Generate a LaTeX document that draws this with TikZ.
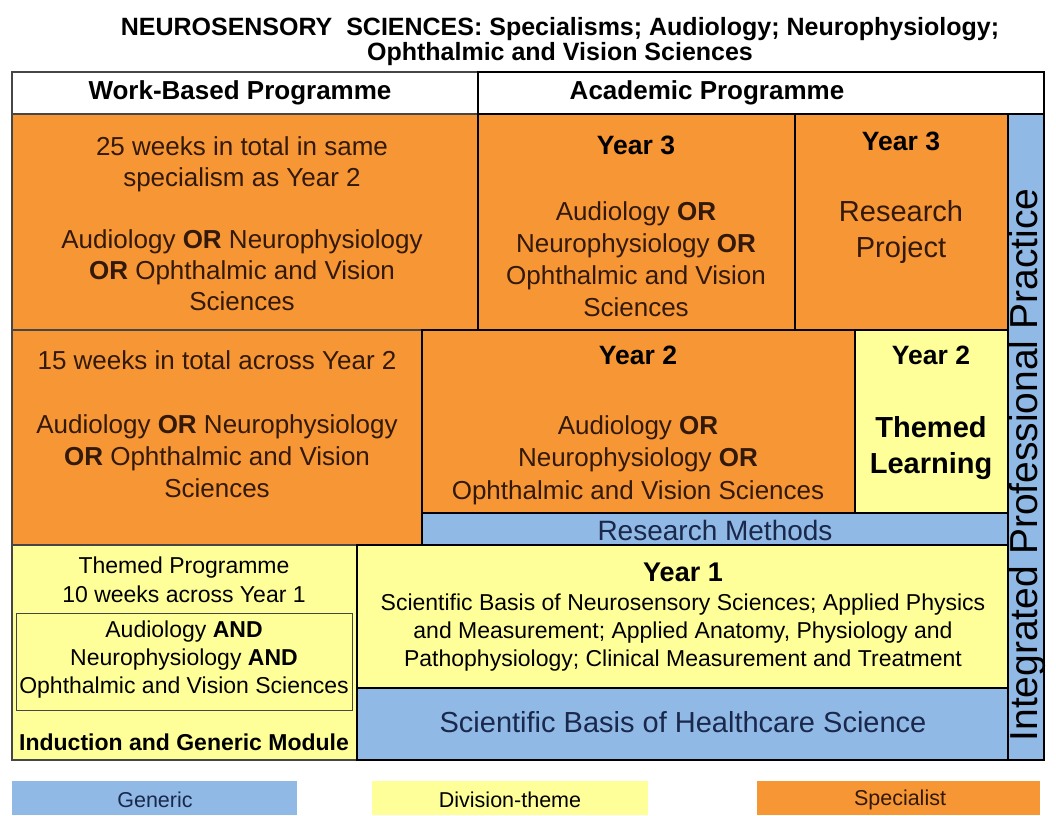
\documentclass[tikz,border=0pt]{standalone}
\usepackage{fontspec}
\setmainfont{Liberation Sans}
\definecolor{specorange}{RGB}{247,150,52}
\definecolor{themeyellow}{RGB}{255,255,153}
\definecolor{genblue}{RGB}{145,185,230}
\definecolor{orangetext}{RGB}{50,25,10}
\definecolor{bluetext}{RGB}{25,40,75}
\definecolor{wbpline}{RGB}{70,70,70}
\tikzset{
  wbp/.style={draw=wbpline, line width=2.5pt},
  acad/.style={draw=black, line width=1.8pt},
  lbl/.style={align=center, inner sep=0pt, font=\fontsize{26}{31}\selectfont},
  yr/.style={lbl, font=\bfseries\fontsize{26.5}{31}\selectfont},
  key/.style={lbl, font=\fontsize{21.5}{21.5}\selectfont},
}
\begin{document}
\begin{tikzpicture}[x=1pt, y=-1pt]
  \useasboundingbox (0,0) rectangle (1056,815);
  % heading
  \node[lbl, font=\bfseries\fontsize{25}{25}\selectfont] (title) at (560,42)
    {NEUROSENSORY\ \ SCIENCES: Specialisms; Audiology; Neurophysiology;\\ Ophthalmic and Vision Sciences};
  % programme headers
  \draw[wbp, fill=white] (12,72) rectangle (478,114);
  \draw[acad, fill=white] (478,72) rectangle (1044,114);
  \node[lbl, font=\bfseries\fontsize{26}{26}\selectfont] (wbphead) at (240,93) {Work-Based Programme};
  \node[lbl, font=\bfseries\fontsize{26}{26}\selectfont] (acadhead) at (707,93) {Academic Programme};

  % third year
  \draw[wbp, fill=specorange] (12,114) rectangle (478,330);
  \node[lbl, text=orangetext] (wbpthree) at (242,224)
    {25 weeks in total in same\\ specialism as Year 2\\[31pt] Audiology \textbf{OR} Neurophysiology\\ \textbf{OR} Ophthalmic and Vision\\ Sciences};
  \draw[acad, fill=specorange] (478,114) rectangle (795,330);
  \node[yr] (yearthree) at (636,145) {Year 3};
  \node[lbl, text=orangetext, font=\fontsize{26}{32}\selectfont] (specthree) at (636,259)
    {Audiology \textbf{OR}\\ Neurophysiology \textbf{OR}\\ Ophthalmic and Vision\\ Sciences};
  \draw[acad, fill=specorange] (795,114) rectangle (1008,330);
  \node[yr] (yearthreeb) at (901,141) {Year 3};
  \node[lbl, text=orangetext, font=\fontsize{29}{36}\selectfont] (resproj) at (901,232) {Research\\ Project};

  % side column
  \draw[acad, fill=genblue] (1008,114) rectangle (1044,760);
  \node[lbl, rotate=90, font=\fontsize{39}{39}\selectfont] (ipp) at (1027,465) {Integrated Professional Practice};

  % second year
  \draw[wbp, fill=specorange] (12,330) rectangle (422,545);
  \node[lbl, text=orangetext, font=\fontsize{26}{32}\selectfont] (wbptwo) at (217,424)
    {15 weeks in total across Year 2\\[32pt] Audiology \textbf{OR} Neurophysiology\\ \textbf{OR} Ophthalmic and Vision\\ Sciences};
  \draw[acad, fill=specorange] (422,330) rectangle (855,513);
  \node[yr] (yeartwo) at (638,355) {Year 2};
  \node[lbl, text=orangetext, font=\fontsize{26}{32.5}\selectfont] (spectwo) at (638,460)
    {Audiology \textbf{OR}\\ Neurophysiology \textbf{OR}\\ Ophthalmic and Vision Sciences};
  \draw[acad, fill=themeyellow] (855,330) rectangle (1008,513);
  \node[yr] (yeartwob) at (931,355) {Year 2};
  \node[lbl, font=\bfseries\fontsize{29}{36}\selectfont] (themed) at (931,448) {Themed\\ Learning};
  \draw[acad, fill=genblue] (422,513) rectangle (1008,545);
  \node[lbl, text=bluetext, font=\fontsize{28}{28}\selectfont] (resmeth) at (715,530) {Research Methods};

  % first year
  \draw[wbp, fill=themeyellow] (12,545) rectangle (357,760);
  \node[lbl, font=\fontsize{23}{29}\selectfont] (tprog) at (184,580) {Themed Programme\\ 10 weeks across Year 1};
  \draw[draw=wbpline, line width=1pt] (16,613) rectangle (352,710);
  \node[lbl, font=\fontsize{23}{28}\selectfont] (tall) at (184,660)
    {Audiology \textbf{AND}\\ Neurophysiology \textbf{AND}\\ Ophthalmic and Vision Sciences};
  \node[lbl, font=\bfseries\fontsize{23}{23}\selectfont] (induct) at (184,742) {Induction and Generic Module};
  \draw[acad, fill=themeyellow] (357,545) rectangle (1008,688);
  \node[yr, font=\bfseries\fontsize{27}{27}\selectfont] (yearone) at (683,572) {Year 1};
  \node[lbl, font=\fontsize{23}{28}\selectfont] (specone) at (683,633)
    {Scientific Basis of Neurosensory Sciences; Applied Physics\\ and Measurement; Applied Anatomy, Physiology and\\ Pathophysiology; Clinical Measurement and Treatment};
  \draw[acad, fill=genblue] (357,688) rectangle (1008,760);
  \node[lbl, text=bluetext, font=\fontsize{29}{29}\selectfont] (sbhs) at (683,722) {Scientific Basis of Healthcare Science};

  % key
  \fill[genblue] (12,781) rectangle (297,815);
  \node[key, text=bluetext] (kgen) at (155,800) {Generic};
  \fill[themeyellow] (372,781) rectangle (648,815);
  \node[key] (kdiv) at (510,800) {Division-theme};
  \fill[specorange] (757,781) rectangle (1040,815);
  \node[key, text=orangetext] (kspec) at (900,800) {Specialist};
\end{tikzpicture}
\end{document}
